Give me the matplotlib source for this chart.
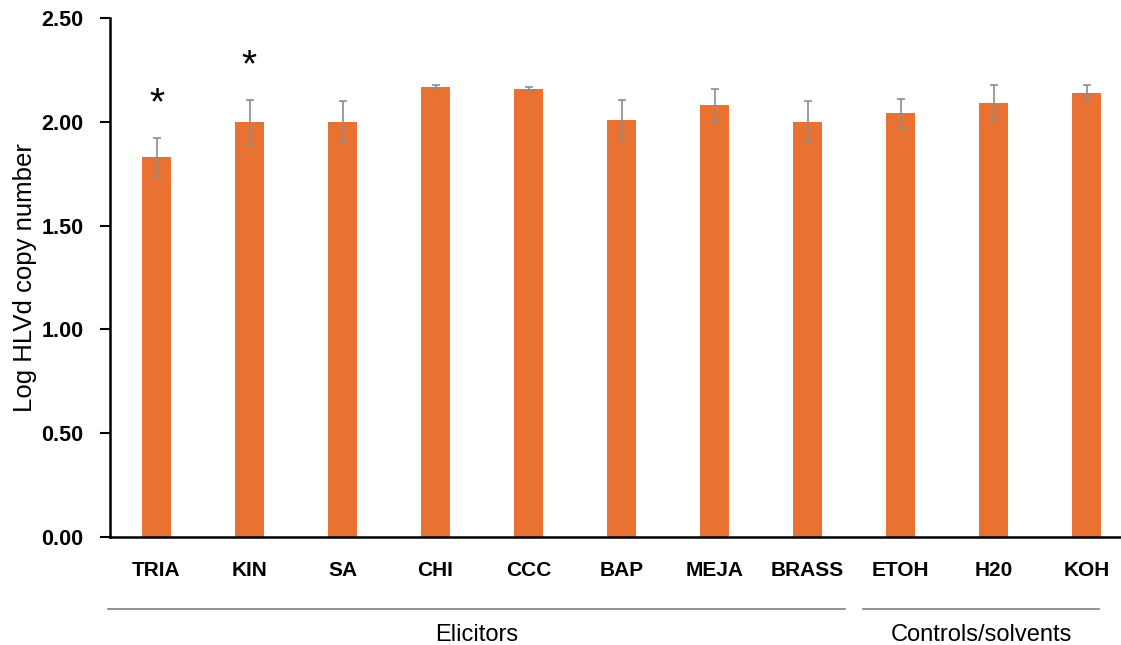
import matplotlib.pyplot as plt
import numpy as np

plt.rcParams['font.family'] = ['Liberation Sans', 'DejaVu Sans']

# data
treatments = ['TRIA', 'KIN', 'SA', 'CHI', 'CCC', 'BAP', 'MEJA', 'BRASS', 'ETOH', 'H20', 'KOH']
log_copies = [1.83, 2.00, 2.00, 2.17, 2.16, 2.01, 2.08, 2.00, 2.04, 2.09, 2.14]
errors = [0.09, 0.105, 0.10, 0.005, 0.01, 0.095, 0.08, 0.10, 0.07, 0.085, 0.035]
star_idx = [0, 1]
star_y = [2.085, 2.265]
group_names = ['Elicitors', 'Controls/solvents']
group_start = [0, 8]
group_end = [7, 10]

bar_color = '#E97132'

fig = plt.figure(figsize=(11.21, 6.45), dpi=100)
ax = fig.add_axes([110/1121, 108/645, 1011/1121, 519/645])

x = np.arange(len(treatments))
ax.bar(x, log_copies, width=0.32, color=bar_color, zorder=2)
ax.errorbar(x, log_copies, yerr=errors, fmt='none', ecolor='#8c8c8c',
            elinewidth=1.2, capsize=3, capthick=1.2, zorder=3)

# significance marks
for i, yy in zip(star_idx, star_y):
    ax.text(x[i], yy, '*', ha='center', va='center', fontsize=28, color='black')

ax.set_xlim(-0.5, -0.5 + 1011/93)
ax.set_ylim(0, 2.5)
ax.set_yticks(np.arange(0, 2.51, 0.5))
ax.set_yticklabels(['%.2f' % v for v in np.arange(0, 2.51, 0.5)],
                   fontsize=15.5, fontweight='bold')
ax.set_xticks(x)
ax.set_xticklabels(treatments, fontsize=15, fontweight='bold')
ax.tick_params(axis='x', length=0, pad=17)
ax.tick_params(axis='y', direction='out', length=7, width=1.5, pad=12)
ax.set_ylabel('Log HLVd copy number', fontsize=18.5, labelpad=3)

for s in ['top', 'right']:
    ax.spines[s].set_visible(False)
ax.spines['left'].set_linewidth(1.8)
ax.spines['bottom'].set_linewidth(1.8)

# group brackets below the tick labels
trans = ax.get_xaxis_transform()
for name, a, b in zip(group_names, group_start, group_end):
    lo = a - 0.52 if a == 0 else a - 0.4
    hi = b + 0.4 if b < len(treatments) - 1 else b + 0.13
    ax.plot([lo, hi], [-0.139, -0.139], color='#7f7f7f', lw=1.2,
            transform=trans, clip_on=False)
    ax.text((lo + hi) / 2, -0.188, name, ha='center', va='center',
            fontsize=17, transform=trans)

fig.savefig('out.png', dpi=100)
